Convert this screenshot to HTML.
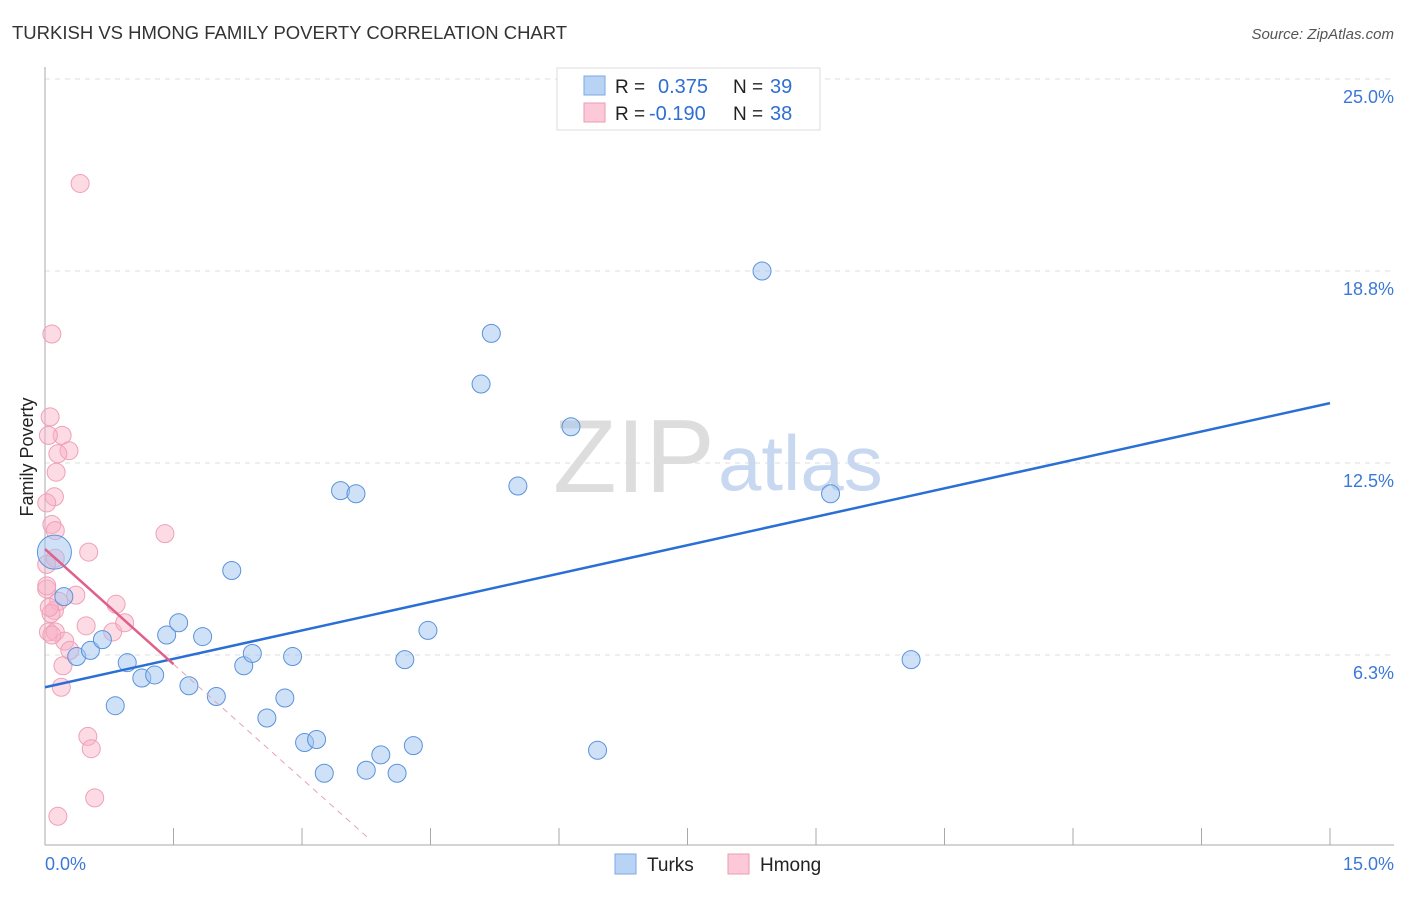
<!DOCTYPE html>
<html><head><meta charset="utf-8"><style>
body{margin:0;background:#fff;font-family:"Liberation Sans",sans-serif;}
svg text{font-family:"Liberation Sans",sans-serif;}
</style></head><body>
<svg id="c" width="1406" height="892" xmlns="http://www.w3.org/2000/svg">
<text x="12" y="39" font-size="18.5" fill="#333">TURKISH VS HMONG FAMILY POVERTY CORRELATION CHART</text>
<text x="1394" y="39" font-size="15" fill="#555" font-style="italic" text-anchor="end">Source: ZipAtlas.com</text>
<text x="33" y="457" font-size="18" fill="#222" transform="rotate(-90 33 457)" text-anchor="middle">Family Poverty</text>
<g id="grid"></g>
<line x1="45" y1="67" x2="45" y2="845" stroke="#aaa"/>
<line x1="45" y1="845" x2="1394" y2="845" stroke="#aaa"/>
<text x="553" y="492" font-size="104" fill="#ddd" font-family="Liberation Serif">ZIP</text>
<text x="718" y="490" font-size="78" fill="#c8d8f0">atlas</text>
<g id="pts"></g>
<g id="lines"></g>
<g>
<rect x="557" y="68" width="263" height="62" fill="#fff" stroke="#ddd"/>
<rect x="584" y="76" width="21" height="19" fill="#b9d3f5" stroke="#7aa8e6"/>
<rect x="584" y="103" width="21" height="19" fill="#fbc9d7" stroke="#ef9ab4"/>
<text x="615" y="93" font-size="19" fill="#222">R =</text><text x="658" y="93" font-size="20" fill="#2f6fd1">0.375</text>
<text x="733" y="93" font-size="19" fill="#222">N =</text><text x="770" y="93" font-size="20" fill="#2f6fd1">39</text>
<text x="615" y="120" font-size="19" fill="#222">R =</text><text x="649" y="120" font-size="20" fill="#2f6fd1">-0.190</text>
<text x="733" y="120" font-size="19" fill="#222">N =</text><text x="770" y="120" font-size="20" fill="#2f6fd1">38</text>
</g>
<g>
<rect x="615" y="854" width="21" height="20" fill="#b9d3f5" stroke="#7aa8e6"/>
<text x="647" y="871" font-size="19" fill="#222">Turks</text>
<rect x="728" y="854" width="21" height="20" fill="#fbc9d7" stroke="#ef9ab4"/>
<text x="760" y="871" font-size="19" fill="#222">Hmong</text>
</g>
<text x="45" y="870" font-size="18" fill="#3b78d8">0.0%</text>
<text x="1394" y="870" font-size="18" fill="#3b78d8" text-anchor="end">15.0%</text>
</svg>
<script>
const yTicks=[25,18.75,12.5,6.25];
const yTickLabels=["25.0%","18.8%","12.5%","6.3%"];
const xTicks=[0,1.5,3,4.5,6,7.5,9,10.5,12,13.5,15];
const turksX=[0.11,0.22,0.37,0.53,0.67,0.82,0.96,1.13,1.28,1.42,1.56,1.68,1.84,2.0,2.18,2.32,2.42,2.59,2.8,2.89,3.03,3.17,3.26,3.45,3.63,3.75,3.92,4.11,4.2,4.3,4.47,5.09,5.21,5.52,6.14,6.45,8.37,9.17,10.11];
const turksY=[9.6,8.15,6.2,6.4,6.75,4.6,6.0,5.5,5.6,6.9,7.3,5.25,6.85,4.9,9.0,5.9,6.3,4.2,4.85,6.2,3.4,3.5,2.4,11.6,11.5,2.5,3.0,2.4,6.1,3.3,7.05,15.07,16.72,11.75,13.68,3.15,18.75,11.5,6.1];
const hmongX=[0.41,0.08,0.06,0.2,0.04,0.28,0.15,0.13,0.11,0.02,0.08,0.12,1.4,0.51,0.12,0.02,0.02,0.36,0.83,0.16,0.11,0.07,0.04,0.12,0.48,0.79,0.93,0.23,0.29,0.21,0.19,0.5,0.54,0.58,0.15,0.05,0.02,0.08];
const hmongY=[21.6,16.7,14.0,13.4,13.4,12.9,12.8,12.2,11.4,11.2,10.5,10.3,10.2,9.6,9.4,9.2,8.4,8.2,7.9,8.0,7.7,7.6,7.0,7.0,7.2,7.0,7.3,6.7,6.4,5.9,5.2,3.6,3.2,1.6,1.0,7.8,8.5,6.9];
const blueLine=[[0,5.2],[15,14.45]];
const pinkLine=[[0,9.7],[1.5,5.95]];
const pinkDash=[[1.5,5.95],[3.77,0.3]];
const sx=v=>45+v/15*1285, sy=v=>847-v*30.72;
const NS="http://www.w3.org/2000/svg";
const mk=(t,a,p)=>{const e=document.createElementNS(NS,t);for(const k in a)e.setAttribute(k,a[k]);p.appendChild(e);return e;};
const grid=document.getElementById('grid');
yTicks.forEach((v,i)=>{
 const l=mk('line',{x1:45,x2:1394,y1:sy(v),y2:sy(v),stroke:'#ddd','stroke-dasharray':'5,5'},grid);
 
 
 const t=mk('text',{x:1394,y:sy(v)+24,'font-size':18,fill:'#3b78d8','text-anchor':'end'},grid);
 t.textContent=yTickLabels[i];
 
 
});
xTicks.forEach(v=>{
 const l=mk('line',{x1:sx(v),x2:sx(v),y1:828,y2:845,stroke:'#aaa'},grid);
 
 
});
const pts=document.getElementById('pts');
hmongX.forEach((x,i)=>{
 const c=mk('circle',{cx:sx(x),cy:sy(hmongY[i]),r:9,fill:'rgba(248,176,198,0.45)',stroke:'#efa0b8','stroke-width':1},pts);
 
 
});
turksX.forEach((x,i)=>{
 const c=mk('circle',{cx:sx(x),cy:sy(turksY[i]),r:i==0?17:9,fill:'rgba(160,196,240,0.5)',stroke:'#5b92dc','stroke-width':1},pts);
 
 
});
const lg=document.getElementById('lines');
let e=mk('line',{x1:sx(blueLine[0][0]),y1:sy(blueLine[0][1]),x2:sx(blueLine[1][0]),y2:sy(blueLine[1][1]),stroke:'#2a6fd6','stroke-width':2.5},lg);


e=mk('line',{x1:sx(pinkLine[0][0]),y1:sy(pinkLine[0][1]),x2:sx(pinkLine[1][0]),y2:sy(pinkLine[1][1]),stroke:'#e0608a','stroke-width':2.5},lg);


e=mk('line',{x1:sx(pinkDash[0][0]),y1:sy(pinkDash[0][1]),x2:sx(pinkDash[1][0]),y2:sy(pinkDash[1][1]),stroke:'#e8a0b5','stroke-width':1,'stroke-dasharray':'6,5'},lg);


</script>
</body></html>
